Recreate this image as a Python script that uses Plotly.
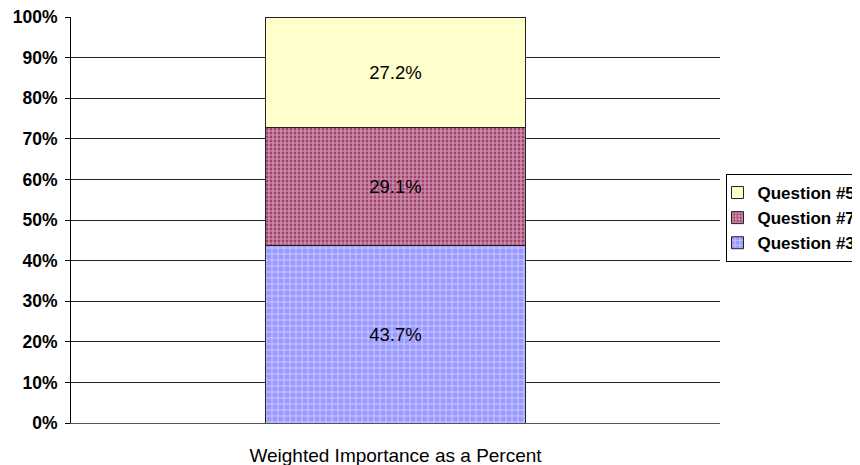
import plotly.graph_objects as go

categories = ["Weighted Importance as a Percent"]
series_names = ["Question #3", "Question #7", "Question #5"]
q3 = [43.7]
q7 = [29.1]
q5 = [27.2]
y_ticks = list(range(0, 101, 10))
y_tick_labels = [f"{v}%" for v in y_ticks]

FONT = "Arial, Liberation Sans, sans-serif"

fig = go.Figure()
fig.add_trace(go.Bar(
    x=categories, y=q3, name=series_names[0],
    text=[f"{v:.1f}%" for v in q3], textposition="inside", insidetextanchor="middle",
    textfont=dict(family=FONT, size=18.5, color="#000"),
    marker=dict(color="#9999ff", line=dict(color="#222", width=1),
                pattern=dict(shape="+", fgcolor="#ffffff", bgcolor="#9999ff", size=6, solidity=0.3)),
    width=0.4,
))
fig.add_trace(go.Bar(
    x=categories, y=q7, name=series_names[1],
    text=[f"{v:.1f}%" for v in q7], textposition="inside", insidetextanchor="middle",
    textfont=dict(family=FONT, size=18.5, color="#000"),
    marker=dict(color="#993366", line=dict(color="#222", width=1),
                pattern=dict(shape="+", fgcolor="#ffffff", bgcolor="#a3406f", size=4, solidity=0.5)),
    width=0.4,
))
fig.add_trace(go.Bar(
    x=categories, y=q5, name=series_names[2],
    text=[f"{v:.1f}%" for v in q5], textposition="inside", insidetextanchor="middle",
    textfont=dict(family=FONT, size=18.5, color="#000"),
    marker=dict(color="#ffffcc", line=dict(color="#222", width=1)),
    width=0.4,
))

fig.update_layout(
    width=852, height=457,
    barmode="stack",
    plot_bgcolor="white", paper_bgcolor="white",
    margin=dict(l=63, r=140, t=9, b=42, autoexpand=False),
    font=dict(family=FONT, color="#000"),
    showlegend=True,
    legend=dict(
        traceorder="reversed",
        x=1.01, xanchor="left", y=0.505, yanchor="middle",
        bordercolor="#000", borderwidth=1, bgcolor="white",
        font=dict(family=FONT, size=17, color="#000", weight="bold"),
        itemwidth=30, tracegroupgap=0, indentation=-10,
    ),
    xaxis=dict(
        showgrid=False, showline=True, linecolor="#555", linewidth=1,
        ticks="", ticklabelstandoff=15, ticklabeloverflow="allow",
        tickfont=dict(family=FONT, size=19, color="#000"),
        fixedrange=True,
    ),
    yaxis=dict(
        range=[0, 100], tickvals=y_ticks, ticktext=y_tick_labels,
        showgrid=True, gridcolor="#222", gridwidth=1,
        showline=True, linecolor="#000", linewidth=1,
        ticks="outside", ticklen=5, tickcolor="#000",
        ticklabelstandoff=4, ticklabeloverflow="allow",
        tickfont=dict(family=FONT, size=17.5, color="#000", weight="bold"),
        zeroline=False,
    ),
)

fig.write_html("out.html")
